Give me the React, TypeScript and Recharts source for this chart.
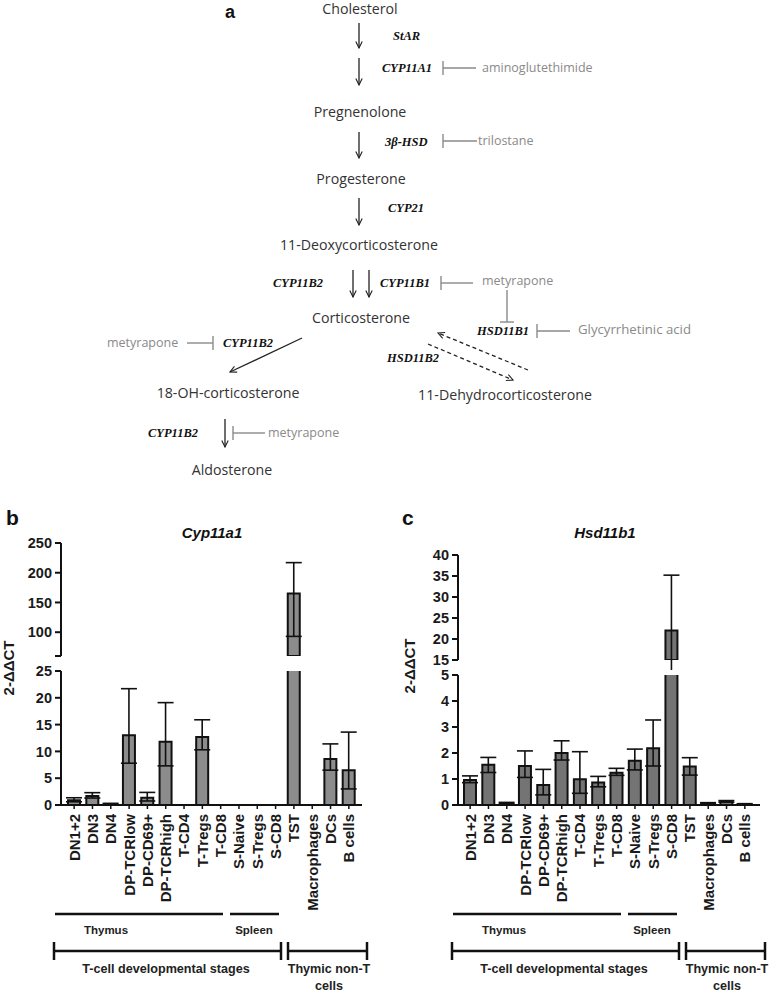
import React from "react";
import { BarChart, Bar, XAxis, YAxis, ErrorBar } from "recharts";

// cell populations on the x axis (same for both panels)
const categories = [
  "DN1+2", "DN3", "DN4", "DP-TCRlow", "DP-CD69+", "DP-TCRhigh", "T-CD4", "T-Tregs",
  "T-CD8", "S-Naive", "S-Tregs", "S-CD8", "TST", "Macrophages", "DCs", "B cells",
];

// panel b: Cyp11a1 (2-ΔΔCT), mean and error (down / up)
const cypMean = [0.9, 1.7, 0.2, 13.0, 1.35, 11.8, 0, 12.7, 0, 0, 0, 0, 165, 0, 8.6, 6.5];
const cypErrUp = [0.45, 0.6, 0.1, 8.7, 1.0, 7.3, 0, 3.2, 0, 0, 0, 0, 52, 0, 2.8, 7.1];
const cypErrDown = [0.3, 0.4, 0.1, 5.2, 0.6, 4.5, 0, 2.4, 0, 0, 0, 0, 72, 0, 2.1, 3.5];

// panel c: Hsd11b1 (2-ΔΔCT)
const hsdMean = [0.96, 1.55, 0.07, 1.5, 0.77, 2.0, 0.99, 0.87, 1.24, 1.7, 2.18, 22, 1.48, 0.07, 0.14, 0.04];
const hsdErrUp = [0.16, 0.28, 0.03, 0.58, 0.6, 0.47, 1.06, 0.23, 0.17, 0.45, 1.09, 13.2, 0.34, 0.02, 0.03, 0.01];
const hsdErrDown = [0.1, 0.3, 0.02, 0.44, 0.38, 0.27, 0.54, 0.17, 0.1, 0.35, 0.68, 10, 0.33, 0.02, 0.03, 0.01];

// broken y axis segments
const cypUpperTicks = [60, 100, 150, 200, 250];
const cypLowerTicks = [0, 5, 10, 15, 20, 25];
const hsdUpperTicks = [15, 20, 25, 30, 35, 40];
const hsdLowerTicks = [0, 1, 2, 3, 4, 5];

const SANS = "'Liberation Sans', Arial, sans-serif";
const AXIS = { stroke: "#111", strokeWidth: 2 };

const CatTick = (props: any) => {
  const { x, y, payload } = props;
  return (
    <text
      transform={`translate(${x},${y + 3}) rotate(-90)`}
      textAnchor="end"
      dy="0.36em"
      fontFamily={SANS}
      fontWeight="bold"
      fontSize={15}
      fill="#1a1a1a"
    >
      {payload.value}
    </text>
  );
};

type SegProps = {
  mean: number[];
  up: number[];
  down: number[];
  ticks: number[];
  hideFirst?: boolean;
  left: number;
  top: number;
  width: number;
  height: number;
  yWidth: number;
  right: number;
  bottom: number;
  showX: boolean;
  pad: { left: number; right: number };
  fill: string;
};

function Segment(p: SegProps) {
  const lo = p.ticks[0];
  const hi = p.ticks[p.ticks.length - 1];
  const rows = categories.map((name, i) => {
    const v = p.mean[i];
    const inside = v >= lo && v <= hi && v > 0;
    return { name, v: v >= lo ? v : null, err: inside ? [p.down[i], p.up[i]] : undefined };
  });
  return (
    <div style={{ position: "absolute", left: p.left, top: p.top }}>
      <BarChart
        width={p.width}
        height={p.height}
        data={rows}
        margin={{ top: 10, right: p.right, bottom: p.bottom, left: 0 }}
        barCategoryGap={0}
      >
        {p.showX ? (
          <XAxis
            dataKey="name"
            interval={0}
            height={110}
            tick={<CatTick />}
            tickSize={4}
            axisLine={AXIS}
            tickLine={{ stroke: "#111", strokeWidth: 1.5 }}
            padding={p.pad}
          />
        ) : (
          <XAxis dataKey="name" hide padding={p.pad} />
        )}
        <YAxis
          type="number"
          domain={[lo, hi]}
          ticks={p.ticks}
          interval={0}
          allowDataOverflow
          width={p.yWidth}
          tickSize={6}
          tickMargin={3}
          axisLine={AXIS}
          tickLine={AXIS}
          tickFormatter={(t: number) => (p.hideFirst && t === lo ? "" : String(t))}
          tick={{ fontFamily: SANS, fontWeight: "bold", fontSize: 14.5, fill: "#1a1a1a" }}
        />
        <Bar dataKey="v" fill={p.fill} stroke="#111" strokeWidth={2} barSize={12} isAnimationActive={false}>
          <ErrorBar dataKey="err" direction="y" width={8} stroke="#111" strokeWidth={1.6} />
        </Bar>
      </BarChart>
    </div>
  );
}

function Inhib({ x1, x2, y }: { x1: number; x2: number; y: number }) {
  return (
    <g stroke="#8a8a8a" strokeWidth={1.4}>
      <line x1={x1} y1={y - 7} x2={x1} y2={y + 7} />
      <line x1={x1} y1={y} x2={x2} y2={y} />
    </g>
  );
}

function Pathway() {
  const cmp = { fontFamily: "'Open Sans', 'Noto Sans', sans-serif", fontSize: 14.2, fill: "#333", textAnchor: "middle" as const };
  const enz = { fontFamily: "'Liberation Serif', serif", fontSize: 12.5, fontWeight: "bold", fontStyle: "italic", fill: "#111" };
  const inh = { fontFamily: "'Open Sans', 'Noto Sans', sans-serif", fontSize: 12.5, fill: "#8a8a8a" };
  const ar = { stroke: "#222", strokeWidth: 1.3, markerEnd: "url(#ah)" };
  return (
    <g>
      <defs>
        <marker id="ah" viewBox="0 0 10 10" refX="9" refY="5" markerWidth="8" markerHeight="8" markerUnits="userSpaceOnUse" orient="auto">
          <path d="M1,1 L9,5 L1,9" fill="none" stroke="#222" strokeWidth="1.4" />
        </marker>
      </defs>
      <text x={225} y={18} fontFamily={SANS} fontWeight="bold" fontSize={18} fill="#111">a</text>

      <text x={360} y={14} {...cmp}>Cholesterol</text>
      <text x={360} y={117} {...cmp}>Pregnenolone</text>
      <text x={361} y={184} {...cmp}>Progesterone</text>
      <text x={359} y={250} {...cmp}>11-Deoxycorticosterone</text>
      <text x={361} y={323} {...cmp}>Corticosterone</text>
      <text x={228} y={398} {...cmp}>18-OH-corticosterone</text>
      <text x={505} y={400} {...cmp}>11-Dehydrocorticosterone</text>
      <text x={232} y={475} {...cmp}>Aldosterone</text>

      <text x={393} y={40} {...enz}>StAR</text>
      <text x={382} y={72} {...enz}>CYP11A1</text>
      <text x={385} y={146} {...enz}>3β-HSD</text>
      <text x={388} y={212} {...enz}>CYP21</text>
      <text x={273} y={287} {...enz}>CYP11B2</text>
      <text x={380} y={287} {...enz}>CYP11B1</text>
      <text x={477} y={335} {...enz}>HSD11B1</text>
      <text x={223} y={347} {...enz}>CYP11B2</text>
      <text x={387} y={362} {...enz}>HSD11B2</text>
      <text x={148} y={437} {...enz}>CYP11B2</text>

      <text x={482} y={72} {...inh}>aminoglutethimide</text>
      <text x={478} y={145} {...inh}>trilostane</text>
      <text x={482} y={285} {...inh}>metyrapone</text>
      <text x={578} y={334} {...inh} fontSize={13.2}>Glycyrrhetinic acid</text>
      <text x={107} y={347} {...inh}>metyrapone</text>
      <text x={268} y={437} {...inh}>metyrapone</text>

      <Inhib x1={443} x2={476} y={68} />
      <Inhib x1={443} x2={477} y={141} />
      <Inhib x1={441} x2={473} y={283} />
      <Inhib x1={537} x2={570} y={331} />
      <Inhib x1={213} x2={187} y={343} />
      <Inhib x1={233} x2={265} y={433} />
      <g stroke="#8a8a8a" strokeWidth={1.4}>
        <line x1={507} y1={290} x2={507} y2={322} />
        <line x1={500} y1={322} x2={514} y2={322} />
      </g>

      <line x1={359} y1={23} x2={359} y2={48} {...ar} />
      <line x1={359} y1={58} x2={359} y2={85} {...ar} />
      <line x1={359} y1={132} x2={359} y2={158} {...ar} />
      <line x1={359} y1={198} x2={359} y2={225} {...ar} />
      <line x1={353} y1={270} x2={353} y2={297} {...ar} />
      <line x1={369} y1={270} x2={369} y2={297} {...ar} />
      <line x1={302} y1={338} x2={230} y2={372} {...ar} />
      <line x1={225} y1={419} x2={225} y2={447} {...ar} />
      <line x1={528} y1={370} x2={438} y2={333} {...ar} strokeDasharray="4 3" />
      <line x1={428} y1={344} x2={513} y2={380} {...ar} strokeDasharray="4 3" />
    </g>
  );
}

function Groups({ dx }: { dx: number }) {
  const t = { fontFamily: SANS, fontWeight: "bold", fontSize: 11.5, fill: "#222", textAnchor: "middle" as const };
  const ln = { stroke: "#111", strokeWidth: 2.5 };
  return (
    <g transform={`translate(${dx},0)`}>
      <line x1={55} y1={914} x2={223} y2={914} {...ln} />
      <line x1={230} y1={914} x2={279} y2={914} {...ln} />
      <text x={106} y={934} {...t}>Thymus</text>
      <text x={254} y={934} {...t}>Spleen</text>
      <line x1={54} y1={951} x2={281} y2={951} {...ln} />
      <line x1={54} y1={942} x2={54} y2={960} {...ln} />
      <line x1={281} y1={942} x2={281} y2={960} {...ln} />
      <line x1={288} y1={951} x2={367} y2={951} {...ln} />
      <line x1={288} y1={942} x2={288} y2={960} {...ln} />
      <line x1={367} y1={942} x2={367} y2={960} {...ln} />
      <text x={166} y={973} {...t} fontSize={12.6}>T-cell developmental stages</text>
      <text x={329} y={973} {...t} fontSize={12.6}>Thymic non-T</text>
      <text x={329} y={990} {...t} fontSize={12.6}>cells</text>
    </g>
  );
}

export default function App() {
  const title = { fontFamily: SANS, fontWeight: "bold", fontStyle: "italic", fontSize: 15, fill: "#111", textAnchor: "middle" as const };
  const ylab = { fontFamily: SANS, fontWeight: "bold", fontSize: 15, fill: "#1a1a1a", textAnchor: "middle" as const };
  return (
    <div style={{ position: "absolute", left: 0, top: 0, width: 772, height: 994, background: "#fff", overflow: "hidden" }}>
      <Segment mean={cypMean} up={cypErrUp} down={cypErrDown} ticks={cypUpperTicks} hideFirst
        left={0} top={533} width={385} height={133} yWidth={61} right={23} bottom={10} showX={false}
        pad={{ left: 4, right: 4 }} fill="#8c8c8c" />
      <Segment mean={cypMean} up={cypErrUp} down={cypErrDown} ticks={cypLowerTicks}
        left={0} top={661} width={385} height={254} yWidth={61} right={23} bottom={0} showX
        pad={{ left: 4, right: 4 }} fill="#8c8c8c" />
      <Segment mean={hsdMean} up={hsdErrUp} down={hsdErrDown} ticks={hsdUpperTicks}
        left={385} top={545} width={387} height={125} yWidth={73} right={12} bottom={10} showX={false}
        pad={{ left: 3, right: 6 }} fill="#747474" />
      <Segment mean={hsdMean} up={hsdErrUp} down={hsdErrDown} ticks={hsdLowerTicks}
        left={385} top={665} width={387} height={250} yWidth={73} right={12} bottom={0} showX
        pad={{ left: 3, right: 6 }} fill="#747474" />

      <svg width={772} height={994} style={{ position: "absolute", left: 0, top: 0, pointerEvents: "none" }}>
        <Pathway />
        <text x={6} y={525} fontFamily={SANS} fontWeight="bold" fontSize={21} fill="#111">b</text>
        <text x={402} y={525} fontFamily={SANS} fontWeight="bold" fontSize={21} fill="#111">c</text>
        <text x={212} y={538} {...title}>Cyp11a1</text>
        <text x={605} y={538} {...title}>Hsd11b1</text>
        <text transform="translate(14,668) rotate(-90)" {...ylab}>2-ΔΔCT</text>
        <text transform="translate(415,666) rotate(-90)" {...ylab}>2-ΔΔCT</text>
        <Groups dx={0} />
        <Groups dx={398} />
      </svg>
    </div>
  );
}
